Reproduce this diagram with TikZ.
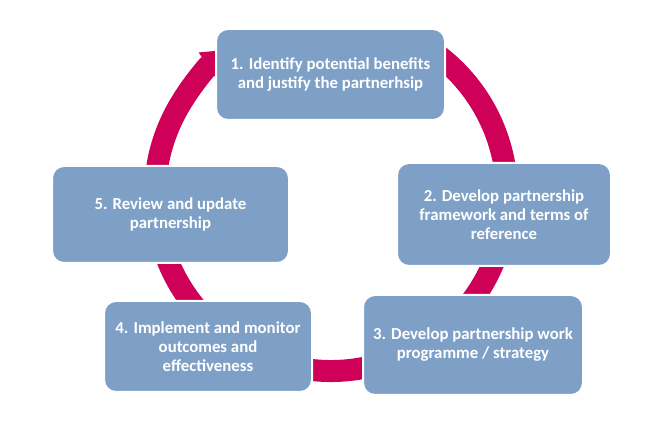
\documentclass[tikz,border=0pt]{standalone}
\usepackage{fontspec}
\setmainfont{Carlito}
\usetikzlibrary{arrows.meta}
\definecolor{boxblue}{RGB}{126,160,198}
\definecolor{ringred}{RGB}{206,0,88}
\tikzset{
  stagebox/.style={rectangle, rounded corners=12pt, fill=boxblue, draw=white,
    line width=2pt, text=white, align=center,
    font=\fontsize{16.8}{19}\selectfont\bfseries, inner sep=2pt},
  ring/.style={draw=ringred, line width=22pt}
}
\begin{document}
\begin{tikzpicture}[x=1pt,y=1pt]
\useasboundingbox (0,0) rectangle (657,421);
\coordinate (c) at (331,226);
% circular arrow
\draw[ring, -{Triangle[width=30pt,length=30pt]}]
  ([shift={(62:176pt)}]c) arc[start angle=62, end angle=-236, radius=176pt];
% boxes
\node[stagebox, minimum width=229pt, minimum height=91pt] (s1) at (330.5,346.5)
  {1. Identify potential benefits\\and justify the partnerhsip};
\node[stagebox, minimum width=214pt, minimum height=103pt] (s2) at (504,206.5)
  {2. Develop partnership\\framework and terms of\\reference};
\node[stagebox, minimum width=220pt, minimum height=100pt] (s3) at (473,76)
  {3. Develop partnership work\\programme / strategy};
\node[stagebox, minimum width=208pt, minimum height=91pt] (s4) at (208,74.5)
  {4. Implement and monitor\\outcomes and\\effectiveness};
\node[stagebox, minimum width=237pt, minimum height=97pt] (s5) at (170.5,206.5)
  {5. Review and update\\partnership};
\end{tikzpicture}
\end{document}
